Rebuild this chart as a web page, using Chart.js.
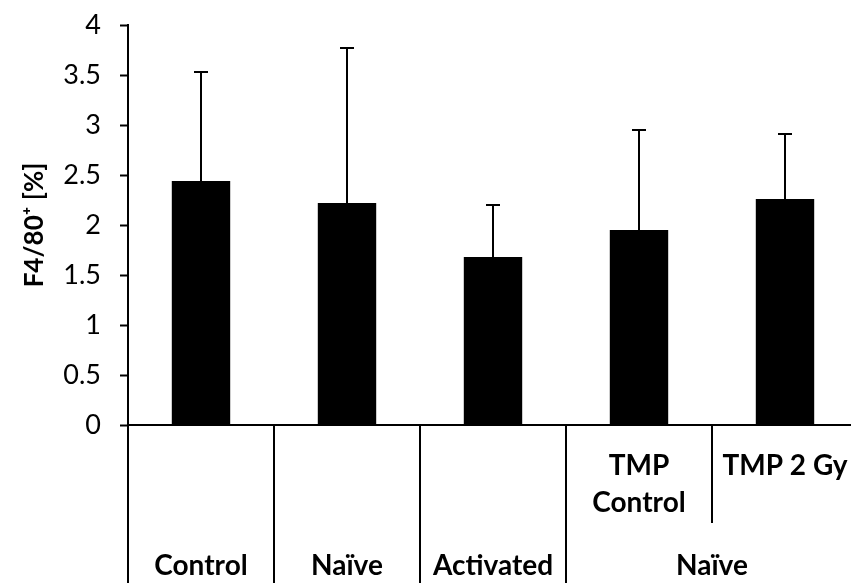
<!DOCTYPE html>
<html>
<head>
<meta charset="utf-8">
<title>F4/80+ cells</title>
<script src="https://cdn.jsdelivr.net/npm/chart.js@4.4.1/dist/chart.umd.min.js"></script>
<style>
  html, body { margin: 0; padding: 0; background: #fff; overflow: hidden; }
  #wrap { width: 860px; height: 583px; }
</style>
</head>
<body>
<div id="wrap"><canvas id="chart" width="860" height="583"></canvas></div>
<script>
/* Data */
const categories = ["Control", "Naïve", "Activated", "TMP Control", "TMP 2 Gy"];
const means      = [2.44, 2.22, 1.68, 1.95, 2.26];
const sds        = [1.09, 1.55, 0.52, 1.00, 0.65];

// first label row (sub-categories), one entry per bar, lines split
const subLabels  = [[], [], [], ["TMP", "Control"], ["TMP 2 Gy"]];
// second label row (groups) and how many bars each group spans
const groupLabels = ["Control", "Naïve", "Activated", "Naïve"];
const groupSpans  = [1, 1, 1, 2];

const yTicks = { min: 0, max: 4, step: 0.5 };
const yTitle = "F4/80\u207A [%]";

const FONT = "Lato, 'Open Sans', sans-serif";
const INK = "#000";

/* error bars: upper half only, capped */
const errorBars = {
  id: "errorBars",
  afterDatasetsDraw(chart) {
    const { ctx, scales: { y } } = chart;
    const meta = chart.getDatasetMeta(0);
    ctx.save();
    ctx.strokeStyle = INK;
    ctx.lineWidth = 2;
    meta.data.forEach((bar, i) => {
      const x = Math.round(bar.x);
      const yBase = y.getPixelForValue(means[i]);
      const yTop = y.getPixelForValue(means[i] + sds[i]);
      ctx.beginPath();
      ctx.moveTo(x, yBase);
      ctx.lineTo(x, yTop);
      ctx.moveTo(x - 7, yTop);
      ctx.lineTo(x + 7, yTop);
      ctx.stroke();
    });
    ctx.restore();
  }
};

/* two-row category axis with divider lines under the x axis */
const categoryTable = {
  id: "categoryTable",
  afterDraw(chart) {
    const { ctx, chartArea, scales: { x } } = chart;
    const slot = x.width / categories.length;
    const edge = (i) => x.getPixelForValue(i) - slot / 2;
    const bottom = chart.height;

    ctx.save();
    ctx.strokeStyle = INK;
    ctx.lineWidth = 2;
    ctx.fillStyle = INK;
    ctx.font = "bold 28px " + FONT;
    ctx.textAlign = "center";
    ctx.textBaseline = "middle";

    // dividers: full height at group edges, short inside a group
    let start = 0;
    groupSpans.forEach((span, g) => {
      for (let k = 0; k < span; k++) {
        const i = start + k;
        const xe = Math.round(edge(i));
        const yEnd = k === 0 ? bottom : chartArea.bottom + 98;
        ctx.beginPath();
        ctx.moveTo(xe, chartArea.bottom);
        ctx.lineTo(xe, yEnd);
        ctx.stroke();
      }
      const mid = (edge(start) + edge(start + span)) / 2;
      ctx.fillText(groupLabels[g], mid, chartArea.bottom + 141);
      start += span;
    });
    const xr = Math.round(edge(categories.length));
    ctx.beginPath();
    ctx.moveTo(xr, chartArea.bottom);
    ctx.lineTo(xr, bottom);
    ctx.stroke();

    // first row labels
    subLabels.forEach((lines, i) => {
      const cx = x.getPixelForValue(i);
      lines.forEach((t, j) => {
        ctx.fillText(t, cx, chartArea.bottom + 41 + j * 37);
      });
    });
    ctx.restore();
  }
};

new Chart(document.getElementById("chart"), {
  type: "bar",
  data: {
    labels: categories,
    datasets: [{
      data: means,
      backgroundColor: INK,
      borderWidth: 0,
      categoryPercentage: 1,
      barPercentage: 0.4,
    }],
  },
  options: {
    responsive: false,
    animation: false,
    devicePixelRatio: 1,
    layout: { padding: { top: 25, right: 2, left: 0, bottom: 0 } },
    plugins: { legend: { display: false }, tooltip: { enabled: false } },
    scales: {
      x: {
        grid: { display: false },
        ticks: { display: false },
        border: { display: true, color: INK, width: 2 },
        afterFit: (s) => { s.height = 158; s.paddingLeft = 0; s.paddingRight = 0; },
      },
      y: {
        min: yTicks.min,
        max: yTicks.max,
        ticks: {
          stepSize: yTicks.step,
          color: INK,
          padding: 19,
          font: { family: FONT, size: 27 },
          callback: (v) => String(v),
        },
        grid: { drawOnChartArea: false, drawTicks: true, tickLength: 8, tickColor: INK, tickWidth: 2 },
        border: { display: true, color: INK, width: 2 },
        title: {
          display: true,
          text: yTitle,
          color: INK,
          font: { family: FONT, size: 26, weight: "bold" },
          padding: { top: 19, bottom: 0 },
        },
        afterFit: (s) => { s.width = 128; s.paddingTop = 0; s.paddingBottom = 0; },
      },
    },
  },
  plugins: [errorBars, categoryTable],
});
</script>
</body>
</html>
